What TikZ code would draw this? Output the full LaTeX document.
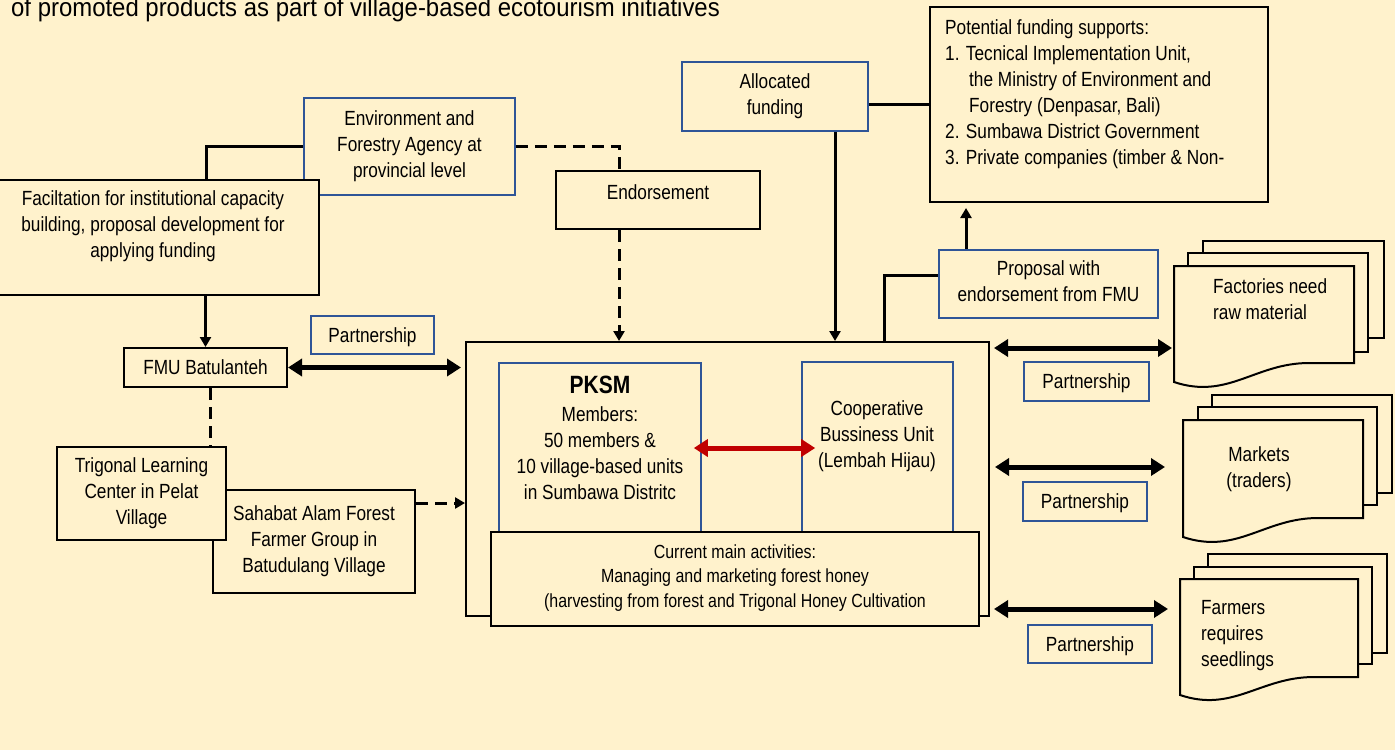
\documentclass[tikz,border=0pt]{standalone}
\usepackage{fontspec}
\setmainfont[FakeStretch=0.84]{Liberation Sans}
\newfontfamily\titlefam[FakeStretch=0.92]{Liberation Sans}
\usetikzlibrary{arrows.meta,calc}
\definecolor{bgc}{HTML}{FFF2CC}
\definecolor{bluec}{HTML}{2F5597}
\definecolor{redc}{HTML}{C00000}
\newcommand\fbody{\fontsize{20.5}{26}\selectfont}
\newcommand\fsmall{\fontsize{19}{24.5}\selectfont}
\newcommand\fbig{\fontsize{25}{30}\selectfont}
\newcommand\ftitle{\titlefam\fontsize{26}{30}\selectfont}
\newcommand\mystrut{\rule[-5.8pt]{0pt}{26pt}}
\begin{document}
\begin{tikzpicture}[x=1pt,y=-1pt,
  bbox/.style={draw=black,line width=2pt,fill=bgc,inner sep=0pt,align=center,font=\fbody,execute at begin node=\mystrut,execute at end node=\mystrut},
  blbox/.style={bbox,draw=bluec,line width=1.6pt},
  txt/.style={inner sep=0pt,align=center,font=\fbody,execute at begin node=\mystrut,execute at end node=\mystrut},
  conn/.style={line width=3pt},
  dconn/.style={line width=3pt,dash pattern=on 12pt off 7pt},
  tip/.style={-{Triangle[length=10pt,width=11pt]}},
  dbl/.style={line width=5pt,{Triangle[length=14pt,width=17pt]}-{Triangle[length=14pt,width=17pt]}},
  doc/.style={draw=black,line width=2pt,fill=bgc}
]
\fill[bgc] (0,0) rectangle (1395,750);
\useasboundingbox (0,0) rectangle (1395,750);

\node[anchor=base west,inner sep=0pt,font=\ftitle] (title) at (11,16.5) {of promoted products as part of village-based ecotourism initiatives};

% left side
\node[blbox,minimum width=211pt,minimum height=97pt] (env) at (409.5,146.5) {Environment and\\Forestry Agency at\\provincial level};
\node[bbox,minimum width=322pt,minimum height=115pt] (fac) at (158,237.5) {};
\node[txt] (facT) at (153,227) {Faciltation for institutional capacity\\building, proposal development for\\applying funding};
\node[bbox,minimum width=163pt,minimum height=39pt] (fmu) at (205.5,367.5) {FMU Batulanteh};
\node[blbox,minimum width=123pt,minimum height=38pt] (p1) at (372.5,335) {Partnership};
\node[bbox,minimum width=202pt,minimum height=103pt] (sah) at (314,541.5) {Sahabat Alam Forest\\Farmer Group in\\Batudulang Village};
\node[bbox,minimum width=169pt,minimum height=93pt] (trig) at (141.5,493.5) {Trigonal Learning\\Center in Pelat\\Village};
\node[bbox,minimum width=204pt,minimum height=58pt] (endo) at (658,200) {};
\node[txt] (endoT) at (658,192) {Endorsement};

% central
\node[bbox,minimum width=523pt,minimum height=274pt] (big) at (727.5,479) {};
\node[blbox,minimum width=202pt,minimum height=182pt] (pksm) at (600,454) {};
\node[inner sep=0pt,font=\fbig\bfseries] (pksmT) at (600,385) {PKSM};
\node[txt] (pksmM) at (600,456) {Members:\\50 members \&\\10 village-based units\\in Sumbawa Distritc};
\node[blbox,minimum width=151pt,minimum height=183pt] (coop) at (877.5,453.5) {};
\node[txt] (coopT) at (877,437) {Cooperative\\Bussiness Unit\\(Lembah Hijau)};
\draw[dbl,redc] ($(pksm.east)+(-8,-6)$) -- ($(coop.west)+(14,-5.5)$);
\node[bbox,font=\fsmall,minimum width=488pt,minimum height=94pt] (act) at (735,579) {Current main activities:\\Managing and marketing forest honey\\(harvesting from forest and Trigonal Honey Cultivation};

% top right
\node[blbox,minimum width=186pt,minimum height=69pt] (alloc) at (775,96.5) {Allocated\\funding};
\node[bbox,minimum width=338pt,minimum height=195pt] (pot) at (1099,104.5) {};
\node[txt,align=left,anchor=west] (potT) at (945,95) {Potential funding supports:\\1. Tecnical Implementation Unit,\\\hspace*{24pt}the Ministry of Environment and\\\hspace*{24pt}Forestry (Denpasar, Bali)\\2. Sumbawa District Government\\3. Private companies (timber \& Non-};
\node[blbox,minimum width=219pt,minimum height=68pt] (prop) at (1048.5,284) {Proposal with\\endorsement from FMU};

% partnership labels right
\node[blbox,minimum width=125pt,minimum height=39pt] (p2) at (1086.5,381.5) {Partnership};
\node[blbox,minimum width=124pt,minimum height=39pt] (p3) at (1085,501.5) {Partnership};
\node[blbox,minimum width=124pt,minimum height=38pt] (p4) at (1090,644) {Partnership};

% multi-documents
\draw[doc] (1203,241) rectangle (1384,338);
\draw[doc] (1188,253) rectangle (1368,352);
\draw[doc] (1174,266) -- (1354,266) -- (1354,363) -- (1309,363) .. controls (1255,363) and (1228,400) .. (1174,382) -- cycle;
\node[txt,align=left,anchor=west] (factT) at (1213,302) {Factories need\\raw material};

\draw[doc] (1212,395) rectangle (1392,493);
\draw[doc] (1198,407) rectangle (1377,505);
\draw[doc] (1183,420) -- (1363,420) -- (1363,518) -- (1318,518) .. controls (1264,518) and (1237,555) .. (1183,537) -- cycle;
\node[txt] (markT) at (1259,470) {Markets\\(traders)};

\draw[doc] (1208,554) rectangle (1387,653);
\draw[doc] (1194,567) rectangle (1372,664);
\draw[doc] (1180,579) -- (1358,579) -- (1358,677) -- (1314,677) .. controls (1260,677) and (1233,713) .. (1180,695) -- cycle;
\node[txt,align=left,anchor=west] (farmT) at (1201,636.5) {Farmers\\requires\\seedlings};

\coordinate (factL) at (1172,348);
\coordinate (markL) at (1165,467);
\coordinate (farmL) at (1168,609);

% connectors
\draw[conn] (env.west) -| ($(fac.north)+(48,0)$);
\draw[conn,tip] (fmu.north |- fac.south) -- (fmu.north);
\draw[dbl] (fmu.east) -- ([xshift=-4pt]fmu.east -| big.west);
\coordinate (fd) at ($(fmu.south)+(4.5,0)$);
\draw[dconn] (fd) -- (fd |- trig.north);
\coordinate (sd) at ($(sah.east)+(0,-38.5)$);
\draw[dconn,tip] (sd) -- (sd -| big.west);
\coordinate (ex) at (619,0);
\draw[dconn] (env.east) -| (ex |- endo.north);
\draw[dconn,tip] (ex |- endo.south) -- (ex |- big.north);
\coordinate (ap) at ($(alloc.east)+(0,8)$);
\draw[conn] (ap) -- (ap -| pot.west);
\coordinate (ad) at ($(alloc.south)+(60,0)$);
\draw[conn,tip] (ad) -- (ad |- big.north);
\coordinate (bp) at (884,0);
\draw[conn] (bp |- big.north) |- ($(prop.west)+(0,-9)$);
\coordinate (pp) at ($(prop.north)+(-82.5,0)$);
\draw[conn,tip,shorten >=5pt] (pp) -- (pp |- pot.south);

\draw[dbl,shorten <=4pt] (big.east |- factL) -- (factL);
\draw[dbl,shorten <=5pt] (big.east |- markL) -- (markL);
\draw[dbl,shorten <=4pt] (big.east |- farmL) -- (farmL);
\end{tikzpicture}
\end{document}
